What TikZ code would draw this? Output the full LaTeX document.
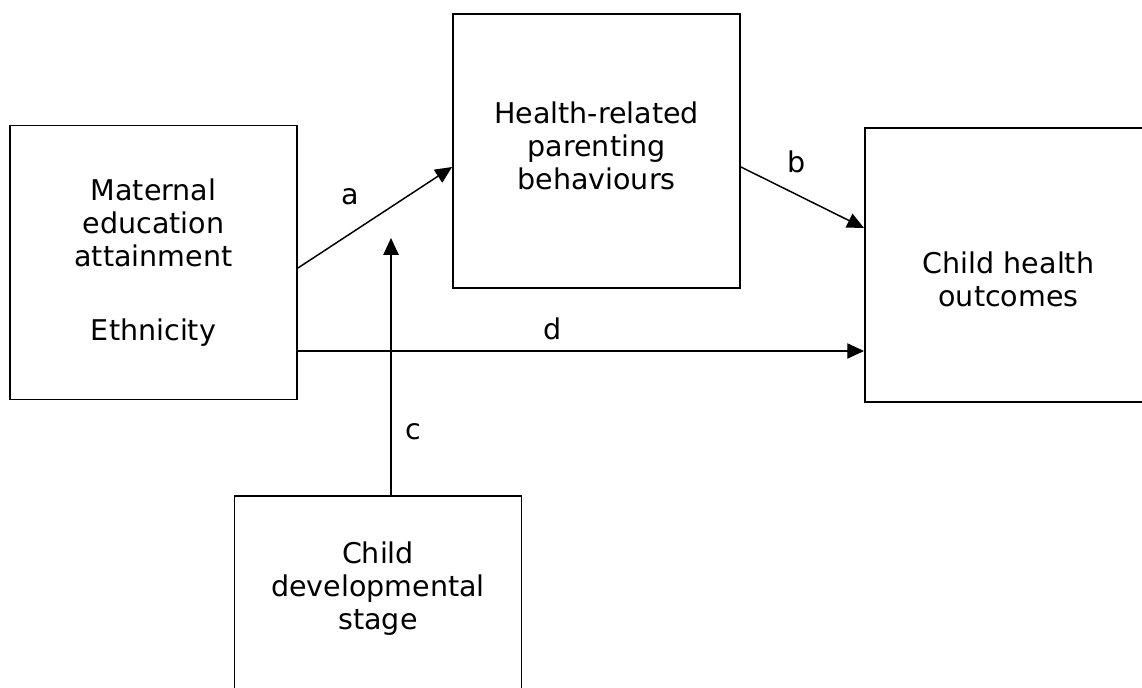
\documentclass[tikz,border=0pt]{standalone}
\usepackage{fontspec}
\setmainfont{DejaVu Sans}
\usetikzlibrary{arrows.meta}

\tikzset{
    box/.style={draw, line width=1.3pt, minimum width=7.175cm, minimum height=6.85cm,
        align=center, font=\fontsize{20.3}{23.4}\selectfont},
    arr/.style={line width=1.05pt, -{Triangle[length=0.42cm, width=0.38cm]}},
    lbl/.style={font=\fontsize{20.3}{23.4}\selectfont}
}

\begin{document}
\begin{tikzpicture}[x=0.025cm, y=-0.025cm]
        \useasboundingbox (0,0) rectangle (1142,688);
        \node[box] (mat) at (153.5,262.5) {Maternal\\education\\attainment\\[1.02cm]Ethnicity};
        \node[box, label={[lbl, align=center, yshift=0.12cm]center:Health-related\\parenting\\behaviours}] (hrp) at (596.5,151) {};
        \node[box, label={[lbl, align=center, yshift=-0.35cm]center:Child health\\outcomes}] (cho) at (1008.5,265) {};
        \node[box, label={[lbl, align=center, yshift=1.1cm]center:Child\\developmental\\stage}] (cds) at (378,633) {};
        \coordinate (cTip) at (391,238);
        \draw[arr] (mat.east |- 0,268) -- (hrp.west |- 0,167);
        \draw[arr] (hrp.east |- 0,167) -- (cho.west |- 0,228);
        \draw[arr] (mat.east |- 0,351) -- (cho.west |- 0,351);
        \draw[arr] (cds.north -| cTip) -- (cTip);
        \node[lbl] (la) at (350,197) {a};
        \node[lbl] (lb) at (797,162) {b};
        \node[lbl] (lc) at (413,432) {c};
        \node[lbl] (ld) at (553,329) {d};
\end{tikzpicture}
\end{document}
